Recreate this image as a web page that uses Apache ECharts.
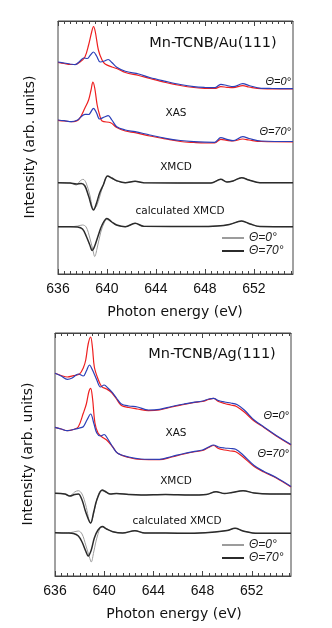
<!DOCTYPE html>
<html>
<head>
<meta charset="utf-8">
<script src="https://cdn.jsdelivr.net/npm/echarts@6/dist/echarts.min.js"></script>
<style>
    html, body { margin: 0; padding: 0; background: #fff; }
    #chart { width: 332px; height: 628px; }
</style>
</head>
<body>
<div id="chart"></div>
<script>
// [photon energy (eV), intensity (arb. units, offsets included)]

// Mn-TCNB/Au(111)
var auXas0Red = [[636.0,21.15],[636.5,21.05],[637.0,20.95],[637.4,20.95],[637.8,21.2],[638.2,21.7],[638.5,22.9],[638.75,24.2],[638.9,24.75],[639.05,24.2],[639.3,22.4],[639.6,21.4],[639.85,21.0],[640.4,20.7],[640.8,20.55],[641.5,20.15],[642.6,19.85],[643.5,19.55],[644.8,19.15],[646.0,18.85],[647.1,18.65],[648.0,18.57],[648.8,18.55],[649.3,18.73],[649.8,18.67],[650.3,18.63],[651.1,18.83],[651.6,18.7],[652.6,18.53],[655.2,18.5]];
var auXas0Blue = [[636.0,21.2],[636.5,21.1],[637.0,21.0],[637.4,20.93],[637.8,21.3],[638.1,21.6],[638.4,21.55],[638.65,21.9],[638.9,22.2],[639.15,21.8],[639.45,21.2],[639.8,21.3],[640.1,21.45],[640.4,21.15],[640.8,20.67],[641.5,20.27],[642.6,20.0],[643.5,19.65],[644.8,19.27],[646.0,18.95],[647.1,18.73],[648.0,18.65],[648.8,18.63],[649.3,18.97],[649.8,18.85],[650.3,18.73],[651.1,19.03],[651.6,18.85],[652.6,18.57],[653.5,18.55],[655.2,18.53]];
var auXas70Red = [[636.0,15.37],[636.5,15.3],[637.1,15.23],[637.7,15.45],[638.2,16.6],[638.5,17.4],[638.7,18.4],[638.85,19.2],[639.0,18.6],[639.2,16.9],[639.4,15.9],[639.6,15.3],[640.3,15.13],[640.8,14.65],[641.5,14.3],[642.3,14.13],[643.5,13.8],[644.8,13.5],[646.0,13.25],[647.1,13.15],[648.0,13.1],[648.8,13.1],[649.3,13.47],[649.8,13.37],[650.3,13.3],[651.1,13.5],[651.6,13.4],[652.6,13.25],[655.2,13.22]];
var auXas70Blue = [[636.0,15.4],[636.5,15.33],[637.1,15.23],[637.6,15.4],[638.2,15.97],[638.5,15.95],[638.9,16.57],[639.15,16.1],[639.4,15.5],[639.8,15.7],[640.1,15.83],[640.4,15.4],[640.8,14.73],[641.5,14.4],[642.3,14.23],[643.5,13.9],[644.8,13.57],[646.0,13.35],[647.1,13.23],[648.0,13.18],[648.8,13.17],[649.3,13.63],[649.8,13.47],[650.3,13.33],[651.1,13.73],[651.6,13.55],[652.6,13.3],[655.2,13.25]];
var auXmcd0 = [[636.0,9.13],[637.0,9.1],[637.5,8.9],[637.8,9.3],[638.05,9.47],[638.3,9.1],[638.6,7.9],[638.9,6.5],[639.15,6.8],[639.4,7.7],[639.7,8.9],[640.05,9.75],[640.4,9.55],[640.8,9.3],[641.5,9.13],[642.3,9.27],[643.0,9.13],[648.5,9.1],[649.3,9.47],[649.8,9.2],[650.3,9.3],[651.0,9.63],[651.6,9.4],[652.5,9.13],[655.2,9.13]];
var auXmcd70 = [[636.0,9.13],[637.0,9.1],[637.5,9.0],[637.9,9.05],[638.2,8.8],[638.5,7.8],[638.9,6.4],[639.15,7.1],[639.4,8.1],[639.7,8.9],[640.05,9.8],[640.4,9.6],[640.8,9.33],[641.5,9.13],[642.3,9.27],[643.0,9.13],[648.5,9.1],[649.3,9.47],[649.8,9.2],[650.3,9.3],[651.0,9.63],[651.6,9.4],[652.5,9.13],[655.2,9.13]];
var auCalc0 = [[636.0,4.73],[637.0,4.73],[637.6,4.8],[638.0,4.9],[638.3,4.7],[638.6,3.6],[638.85,2.4],[639.0,1.75],[639.2,2.6],[639.5,4.2],[639.8,5.2],[640.0,5.45],[640.4,5.15],[640.8,4.85],[641.5,4.73],[642.3,5.07],[643.0,4.77],[647.5,4.75],[649.0,4.8],[650.0,4.95],[651.0,5.3],[651.7,5.0],[652.5,4.75],[655.2,4.73]];
var auCalc70 = [[636.0,4.73],[637.0,4.73],[637.6,4.7],[638.0,4.5],[638.3,3.8],[638.6,2.9],[638.8,2.35],[639.0,2.8],[639.3,3.9],[639.6,4.9],[640.0,5.55],[640.4,5.2],[640.8,4.9],[641.5,4.73],[642.3,5.07],[643.0,4.77],[647.5,4.75],[649.0,4.8],[650.0,4.95],[651.0,5.3],[651.7,5.0],[652.5,4.75],[655.2,4.73]];

// Mn-TCNB/Ag(111)
var agXas0Red = [[636.0,20.27],[636.5,20.05],[637.0,19.9],[637.5,20.03],[638.0,20.2],[638.3,20.8],[638.5,21.6],[638.7,23.2],[638.9,23.9],[639.05,22.8],[639.2,20.9],[639.5,19.7],[639.8,18.93],[640.2,18.7],[640.6,18.35],[641.0,17.7],[641.4,17.05],[642.0,16.85],[642.7,16.7],[643.6,16.53],[644.5,16.6],[645.5,16.9],[646.5,17.15],[647.25,17.33],[648.0,17.45],[648.5,17.65],[648.9,17.77],[649.3,17.45],[649.8,17.25],[650.3,17.1],[650.8,16.93],[651.4,16.4],[652.2,15.5],[653.0,14.85],[654.0,14.0],[655.2,13.1]];
var agXas0Blue = [[636.0,20.27],[636.5,20.0],[637.0,19.67],[637.4,19.8],[637.9,20.2],[638.3,20.0],[638.55,20.5],[638.8,21.1],[639.05,20.6],[639.4,19.6],[639.7,18.9],[640.0,19.1],[640.3,18.8],[640.6,18.43],[641.0,17.8],[641.4,17.2],[642.0,17.0],[642.7,16.9],[643.6,16.6],[644.5,16.67],[645.5,16.95],[646.5,17.2],[647.25,17.37],[648.0,17.5],[648.5,17.7],[648.9,17.77],[649.3,17.55],[649.8,17.4],[650.3,17.3],[650.8,17.15],[651.4,16.6],[652.2,15.6],[653.0,14.9],[654.0,14.05],[655.2,13.15]];
var agXas70Red = [[636.0,14.87],[636.5,14.7],[637.0,14.53],[637.5,14.65],[637.9,14.93],[638.3,16.27],[638.55,17.2],[638.75,18.4],[638.9,18.77],[639.05,17.8],[639.25,15.3],[639.5,14.3],[639.8,13.93],[640.2,13.6],[640.7,12.9],[641.1,12.27],[642.0,11.85],[643.0,11.65],[644.5,11.63],[645.5,11.9],[646.5,12.2],[647.25,12.4],[648.0,12.55],[648.5,12.85],[648.9,13.05],[649.3,12.75],[649.8,12.6],[650.3,12.5],[650.7,12.43],[651.3,11.9],[652.2,10.95],[653.0,10.4],[654.0,9.8],[655.2,8.9]];
var agXas70Blue = [[636.0,14.87],[636.5,14.7],[637.0,14.53],[637.5,14.65],[637.9,14.77],[638.3,14.93],[638.6,15.6],[638.9,16.2],[639.15,15.3],[639.4,14.3],[639.7,14.0],[640.0,14.15],[640.3,13.7],[640.7,12.9],[641.1,12.27],[642.0,11.9],[643.0,11.7],[644.5,11.67],[645.5,11.95],[646.5,12.25],[647.25,12.43],[648.0,12.6],[648.5,12.9],[648.9,13.1],[649.3,12.9],[649.8,12.8],[650.3,12.75],[650.7,12.67],[651.3,12.1],[652.2,11.05],[653.0,10.45],[654.0,9.85],[655.2,8.95]];
var agXmcd0 = [[636.0,8.27],[636.8,8.2],[637.2,8.0],[637.6,8.4],[637.9,8.53],[638.2,8.2],[638.5,7.1],[638.9,5.25],[639.1,6.0],[639.4,7.6],[639.75,8.55],[640.1,8.4],[640.5,8.2],[641.0,8.25],[642.0,8.15],[643.0,8.1],[645.0,8.15],[647.0,8.1],[648.3,8.15],[649.1,8.43],[649.8,8.25],[650.4,8.35],[651.3,8.53],[652.2,8.3],[653.5,8.2],[655.2,8.2]];
var agXmcd70 = [[636.0,8.27],[636.8,8.2],[637.2,8.0],[637.6,8.15],[637.9,8.2],[638.2,7.6],[638.5,6.4],[638.9,5.3],[639.15,6.4],[639.4,7.6],[639.85,8.6],[640.1,8.45],[640.5,8.2],[641.0,8.25],[642.0,8.15],[643.0,8.1],[645.0,8.15],[647.0,8.1],[648.3,8.15],[649.1,8.43],[649.8,8.25],[650.4,8.35],[651.3,8.53],[652.2,8.3],[653.5,8.2],[655.2,8.2]];
var agCalc0 = [[636.0,4.33],[637.0,4.3],[637.5,4.4],[637.9,4.5],[638.2,4.2],[638.5,3.1],[638.8,1.9],[638.95,1.4],[639.15,2.4],[639.45,4.0],[639.8,4.9],[640.2,4.7],[640.7,4.43],[641.5,4.3],[642.5,4.53],[643.3,4.3],[645.0,4.3],[647.0,4.27],[649.0,4.4],[650.0,4.55],[650.65,4.77],[651.3,4.5],[652.5,4.27],[655.2,4.27]];
var agCalc70 = [[636.0,4.33],[637.0,4.3],[637.5,4.25],[637.9,4.0],[638.2,3.4],[638.5,2.5],[638.7,2.0],[638.95,2.6],[639.2,3.8],[639.5,4.6],[639.85,4.95],[640.2,4.7],[640.7,4.43],[641.5,4.3],[642.5,4.53],[643.3,4.3],[645.0,4.3],[647.0,4.27],[649.0,4.4],[650.0,4.55],[650.65,4.77],[651.3,4.5],[652.5,4.27],[655.2,4.27]];

var panelTitles = ['Mn-TCNB/Au(111)', 'Mn-TCNB/Ag(111)'];
var legendNames = ['Θ=0°', 'Θ=70°'];
var xMin = 636, xMax = 655.2, majorStep = 4, minorStep = 0.5;
var yMax = [25.3, 24.3];

var RED = '#ee1f1f', BLUE = '#2b3fb8', GRAY = '#9c9c9c', BLACK = '#2b2b2b';
var FONT = 'DejaVu Sans';

var myChart = echarts.init(document.getElementById('chart'));

function line(name, data, color, width, gi) {
    return {
        name: name,
        type: 'line',
        xAxisIndex: gi * 2,
        yAxisIndex: gi,
        data: data,
        symbol: 'none',
        smooth: 0.35,
        lineStyle: { color: color, width: width },
        itemStyle: { color: color }
    };
}

function xAx(gi, pos) {
    return {
        type: 'value',
        gridIndex: gi,
        position: pos,
        min: xMin,
        max: xMax,
        interval: majorStep,
        axisLine: { show: true, onZero: false, lineStyle: { color: '#444', width: 1 } },
        axisTick: { show: false },
        splitLine: { show: false },
        axisLabel: { show: pos === 'bottom', showMaxLabel: false, fontSize: 14, color: '#111' }
    };
}

function yAx(gi) {
    return { type: 'value', gridIndex: gi, min: 0, max: yMax[gi], show: false };
}

function txt(s, x, y, size, align, italic, rot) {
    return {
        type: 'text',
        x: x,
        y: y,
        rotation: rot || 0,
        silent: true,
        style: {
            text: s,
            font: (italic ? 'italic ' : '') + size + 'px "' + (italic ? 'Liberation Sans' : FONT) + '"',
            fill: '#111',
            textAlign: align,
            textVerticalAlign: 'middle',
            align: align,
            verticalAlign: 'middle'
        }
    };
}

function leg(top) {
    return {
        orient: 'vertical',
        left: 221,
        top: top,
        padding: 0,
        itemWidth: 22,
        itemHeight: 14,
        itemGap: 1,
        selectedMode: false,
        data: legendNames,
        itemStyle: { opacity: 0 },
        textStyle: { fontSize: 12, fontFamily: 'Liberation Sans', fontStyle: 'italic', color: '#222' }
    };
}

var texts = [
    txt(panelTitles[0], 213, 43, 14.5, 'center'),
    txt('Θ=0°', 291, 82, 11, 'right', true),
    txt('XAS', 176, 113, 10.5, 'center'),
    txt('Θ=70°', 291, 132, 11, 'right', true),
    txt('XMCD', 176, 167, 10.5, 'center'),
    txt('calculated XMCD', 180, 211, 10.5, 'center'),
    txt('Intensity (arb. units)', 30, 147, 14, 'center', false, Math.PI / 2),
    txt('Photon energy (eV)', 175, 312, 14, 'center'),

    txt(panelTitles[1], 212, 354, 14.5, 'center'),
    txt('Θ=0°', 289, 416, 11, 'right', true),
    txt('XAS', 176, 433, 10.5, 'center'),
    txt('Θ=70°', 289, 454, 11, 'right', true),
    txt('XMCD', 176, 481, 10.5, 'center'),
    txt('calculated XMCD', 177, 521, 10.5, 'center'),
    txt('Intensity (arb. units)', 28, 454, 14, 'center', false, Math.PI / 2),
    txt('Photon energy (eV)', 174, 614, 14, 'center')
];

var option = {
    animation: false,
    grid: [
        { left: 58, top: 21, width: 235, height: 253, show: true, borderColor: '#444', borderWidth: 1 },
        { left: 55, top: 333, width: 236, height: 243, show: true, borderColor: '#444', borderWidth: 1 }
    ],
    xAxis: [xAx(0, 'bottom'), xAx(0, 'top'), xAx(1, 'bottom'), xAx(1, 'top')],
    yAxis: [yAx(0), yAx(1)],
    legend: [leg(232), leg(539)],
    series: [
        line('au0r', auXas0Red, RED, 1.2, 0),
        line('au0b', auXas0Blue, BLUE, 1.2, 0),
        line('au70r', auXas70Red, RED, 1.2, 0),
        line('au70b', auXas70Blue, BLUE, 1.2, 0),
        line(legendNames[0], auXmcd0, GRAY, 1, 0),
        line(legendNames[1], auXmcd70, BLACK, 1.5, 0),
        line(legendNames[0], auCalc0, GRAY, 1, 0),
        line(legendNames[1], auCalc70, BLACK, 1.5, 0),
        line('ag0r', agXas0Red, RED, 1.2, 1),
        line('ag0b', agXas0Blue, BLUE, 1.2, 1),
        line('ag70r', agXas70Red, RED, 1.2, 1),
        line('ag70b', agXas70Blue, BLUE, 1.2, 1),
        line(legendNames[0], agXmcd0, GRAY, 1, 1),
        line(legendNames[1], agXmcd70, BLACK, 1.5, 1),
        line(legendNames[0], agCalc0, GRAY, 1, 1),
        line(legendNames[1], agCalc70, BLACK, 1.5, 1)
    ],
    graphic: texts
};

myChart.setOption(option);

// inward ticks on top and bottom frame, placed through the axis scale
// (the axis' own inside ticks did not show up with this set-up)
var ticks = [];
[0, 1].forEach(function (gi) {
    var yb = myChart.convertToPixel({ yAxisIndex: gi }, 0);
    var yt = myChart.convertToPixel({ yAxisIndex: gi }, yMax[gi]);
    for (var v = xMin; v < xMax; v += minorStep) {
        var x = Math.round(myChart.convertToPixel({ xAxisIndex: gi * 2 }, v)) + 0.5;
        var len = (v % majorStep === 0) ? 5 : 3;
        ticks.push({ type: 'line', silent: true, shape: { x1: x, y1: yb, x2: x, y2: yb - len }, style: { stroke: '#444', lineWidth: 1 } });
        ticks.push({ type: 'line', silent: true, shape: { x1: x, y1: yt, x2: x, y2: yt + len }, style: { stroke: '#444', lineWidth: 1 } });
    }
});

myChart.setOption({ graphic: texts.concat(ticks) });
</script>
</body>
</html>
